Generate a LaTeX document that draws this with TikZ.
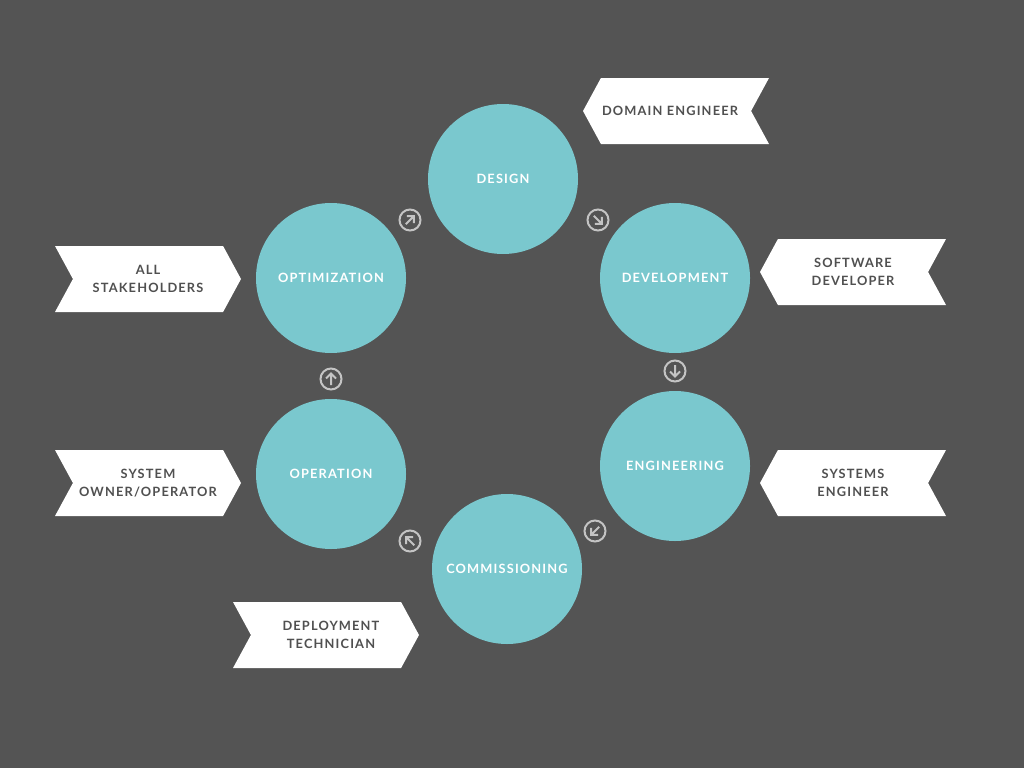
\documentclass[tikz,border=0pt]{standalone}
\usepackage{fontspec}
\newfontfamily\lblfont[LetterSpace=9]{Lato}
\usetikzlibrary{shapes.symbols}

\definecolor{bgGrey}{HTML}{545454}
\definecolor{phaseTeal}{HTML}{7AC8CE}
\definecolor{roleText}{HTML}{505050}
\definecolor{iconGrey}{HTML}{C4C4C4}

\begin{document}
\begin{tikzpicture}[x=1pt, y=-1pt,
    phase/.style={circle, fill=phaseTeal, minimum size=150pt, inner sep=0pt,
        text=white, font=\lblfont\bfseries\fontsize{12.8}{18}\selectfont},
    rolebox/.style={signal, fill=white, minimum width=186pt, minimum height=66pt,
        inner sep=0pt, signal pointer angle=123, text=roleText, align=center,
        font=\lblfont\bfseries\fontsize{12.8}{18}\selectfont},
    roleleft/.style={rolebox, signal to=west, signal from=east},
    roleright/.style={rolebox, signal to=east, signal from=west},
    cycicon/.style={circle, draw=iconGrey, line width=2pt, minimum size=21pt, inner sep=0pt},
    iconline/.style={draw=iconGrey, line width=2pt}
    ]
    % background
    \fill[bgGrey] (0,0) rectangle (1024,768);
    \useasboundingbox (0,0) rectangle (1024,768);

    % phases
    \node[phase] (design)     at (503,179) {DESIGN};
    \node[phase] (develop)    at (675,278) {DEVELOPMENT};
    \node[phase] (engineer)   at (675,466) {ENGINEERING};
    \node[phase] (commission) at (507,569) {COMMISSIONING};
    \node[phase] (operate)    at (331,474) {OPERATION};
    \node[phase] (optimize)   at (331,278) {OPTIMIZATION};

    % roles
    \node[roleleft]  (domeng)   at (676,111) {DOMAIN ENGINEER\hspace*{12pt}};
    \node[roleleft]  (swdev)    at (853,272) {SOFTWARE\\DEVELOPER};
    \node[roleleft]  (syseng)   at (853,483) {SYSTEMS\\ENGINEER};
    \node[roleright] (deptech)  at (326,635) {\hspace*{10pt}DEPLOYMENT\\\hspace*{10pt}TECHNICIAN};
    \node[roleright] (sysown)   at (148,483) {SYSTEM\\OWNER/OPERATOR};
    \node[roleright] (allstake) at (148,279) {ALL\\STAKEHOLDERS};

    % cycle arrows
    \foreach \px/\py/\ang/\nm in {410/220/45/optdes, 598/220/-45/desdev,
        675/371/-90/deveng, 595/531/-135/engcom, 410/541/135/comope, 331/379/90/opeopt} {
        \node[cycicon] (\nm) at (\px,\py) {};
        \draw[iconline, shift={(\nm.center)}, rotate=\ang]
            (-6pt,0pt) -- (5.5pt,0pt) (0.5pt,-5pt) -- (5.5pt,0pt) -- (0.5pt,5pt);
    }
\end{tikzpicture}
\end{document}
